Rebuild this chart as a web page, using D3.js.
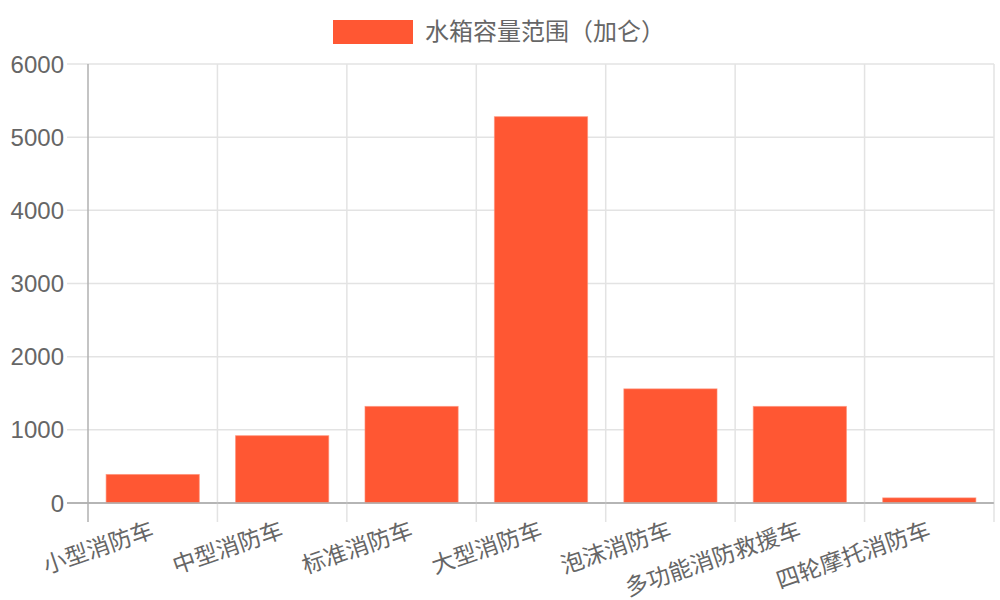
<!DOCTYPE html>
<html>
<head>
<meta charset="utf-8">
<script src="https://cdn.jsdelivr.net/npm/d3@7"></script>
<style>
  body { margin: 0; background: #fff; }
  svg text { font-family: "Liberation Sans", Arial, "Noto Sans CJK SC", sans-serif; fill: #666; }
</style>
</head>
<body>
<div id="chart"></div>
<script>
// Fire truck water tank capacity (gallons)
const categories = ['小型消防车', '中型消防车', '标准消防车', '大型消防车', '泡沫消防车', '多功能消防救援车', '四轮摩托消防车'];
const capacity = [390, 920, 1320, 5280, 1560, 1320, 70];
const yTicks = [0, 1000, 2000, 3000, 4000, 5000, 6000];
const seriesName = '水箱容量范围（加仑）';
const barColor = '#FF5733';

const W = 1000, H = 600;
const margin = { top: 64, right: 6, bottom: 97, left: 88 };
const width = W - margin.left - margin.right;
const height = H - margin.top - margin.bottom;

const svg = d3.select('#chart')
    .append('svg')
    .attr('width', W)
    .attr('height', H);

const g = svg.append('g')
    .attr('transform', `translate(${margin.left},${margin.top})`);

// Scales
const x = d3.scaleBand()
    .domain(categories)
    .range([0, width])
    .paddingInner(0.28)
    .paddingOuter(0.14);

const xEdge = d3.scaleLinear()
    .domain([0, categories.length])
    .range([0, width]);

const y = d3.scaleLinear()
    .domain([0, 6000])
    .range([height, 0]);

const tickLen = 19;

// Horizontal grid lines
g.append('g')
    .selectAll('line')
    .data(yTicks)
    .join('line')
    .attr('x1', -tickLen - 2)
    .attr('x2', width)
    .attr('y1', d => y(d))
    .attr('y2', d => y(d))
    .style('stroke', d => d === 0 ? '#b0b0b0' : '#e3e3e3')
    .style('stroke-width', 1.5);

// Vertical grid lines (category boundaries)
g.append('g')
    .selectAll('line')
    .data(d3.range(categories.length + 1))
    .join('line')
    .attr('x1', d => xEdge(d))
    .attr('x2', d => xEdge(d))
    .attr('y1', 0)
    .attr('y2', height + tickLen)
    .style('stroke', d => d === 0 ? '#b0b0b0' : '#e3e3e3')
    .style('stroke-width', 1.5);

// Bars
g.append('g')
    .selectAll('rect')
    .data(categories)
    .join('rect')
    .attr('x', d => x(d))
    .attr('width', x.bandwidth())
    .attr('y', (d, i) => y(capacity[i]))
    .attr('height', (d, i) => height - y(capacity[i]))
    .style('fill', barColor)
    .style('stroke', 'rgba(255,140,115,0.6)')
    .style('stroke-width', 1);

// Redraw zero line over bars
g.append('line')
    .attr('x1', -tickLen - 2)
    .attr('x2', width)
    .attr('y1', y(0))
    .attr('y2', y(0))
    .style('stroke', '#b0b0b0')
    .style('stroke-width', 1.5);

// Y tick labels
g.append('g')
    .selectAll('text')
    .data(yTicks)
    .join('text')
    .attr('x', -24)
    .attr('y', d => y(d))
    .attr('dy', '0.36em')
    .style('text-anchor', 'end')
    .style('font-size', '24px')
    .text(d => d);

// X tick labels, rotated
g.append('g')
    .selectAll('text')
    .data(categories)
    .join('text')
    .attr('transform', d => `translate(${x(d) + x.bandwidth() / 2},${height + 26}) rotate(-19)`)
    .attr('dy', '0.35em')
    .style('text-anchor', 'end')
    .style('font-size', '23px')
    .text(d => d);

// Legend
const legend = svg.append('g');
const legendText = legend.append('text')
    .attr('x', 92)
    .attr('y', 32)
    .attr('dy', '0.35em')
    .style('font-size', '24px')
    .text(seriesName);
legend.append('rect')
    .attr('x', 0)
    .attr('y', 20)
    .attr('width', 80)
    .attr('height', 24)
    .style('fill', barColor);
const legendW = 92 + legendText.node().getComputedTextLength();
legend.attr('transform', `translate(${(W - legendW) / 2 - 1},0)`);
</script>
</body>
</html>
